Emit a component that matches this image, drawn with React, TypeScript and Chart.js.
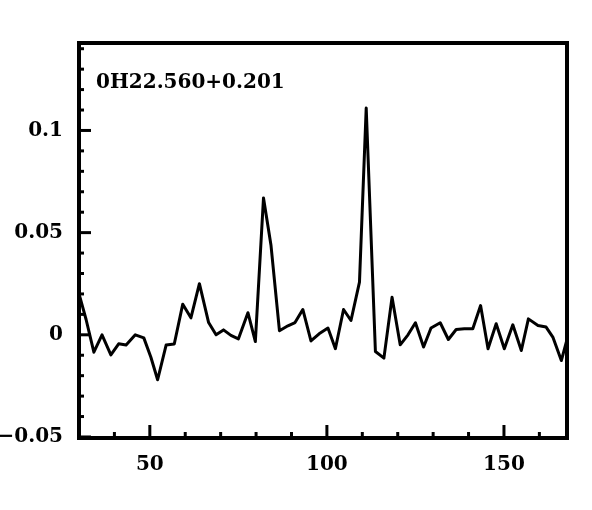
import React, { useEffect, useRef } from "react";
import { Chart, registerables } from "chart.js";

Chart.register(...registerables);

const velocities = [
  29.7, 32.0, 34.2, 36.5, 39.0, 41.2, 43.3, 45.9, 48.3, 50.3,
  52.2, 54.6, 56.9, 59.3, 61.6, 64.0, 66.6, 68.7, 70.8, 72.9,
  75.0, 77.7, 79.8, 82.1, 84.2, 86.6, 89.0, 91.0, 93.2, 95.5,
  97.8, 100.3, 102.4, 104.7, 106.8, 109.2, 111.1, 113.7, 116.1, 118.4,
  120.7, 122.9, 125.0, 127.3, 129.4, 132.0, 134.3, 136.5, 138.8, 141.2,
  143.4, 145.5, 147.8, 150.1, 152.5, 154.9, 156.9, 159.6, 161.9, 163.8,
  166.2, 168.4,
];

const fluxDensity = [
  0.022, 0.0075, -0.0085, 0.0, -0.0098, -0.0044, -0.005, 0.0, -0.0015, -0.011,
  -0.022, -0.005, -0.0045, 0.015, 0.0083, 0.025, 0.006, 0.0, 0.0024, -0.0003,
  -0.002, 0.0108, -0.0033, 0.067, 0.044, 0.002, 0.0044, 0.006, 0.0124, -0.003,
  0.0005, 0.0033, -0.0068, 0.0124, 0.007, 0.0258, 0.111, -0.0082, -0.0114, 0.0184,
  -0.0049, 0.0, 0.0059, -0.006, 0.0033, 0.0059, -0.0023, 0.0026, 0.003, 0.003,
  0.0143, -0.0068, 0.0054, -0.0068, 0.0049, -0.0077, 0.0078, 0.0046, 0.0038, -0.0011,
  -0.0126, 0.0015,
];

const sourceLabel = "0H22.560+0.201";
const xMajorTicks = [50, 100, 150];
const yMajorTicks = [-0.05, 0, 0.05, 0.1];

const FONT = '"DejaVu Serif", serif';

const isMajor = (v: number, list: number[]) =>
  list.some((m) => Math.abs(m - v) < 1e-6);

const fmtY = (v: number) => {
  if (Math.abs(v) < 1e-9) return "0";
  const s = String(Math.round(v * 1000) / 1000);
  return v < 0 ? "\u2212" + s.slice(1) : s;
};

const framePlugin = {
  id: "frame",
  afterDraw(chart: any) {
    const { ctx, chartArea } = chart;
    const { left, right, top, bottom } = chartArea;
    const xs = chart.scales.x;
    const ys = chart.scales.y;
    ctx.save();
    ctx.strokeStyle = "#000";
    ctx.lineCap = "butt";
    ctx.lineWidth = 3;
    xs.ticks.forEach((t: any) => {
      const px = xs.getPixelForValue(t.value);
      const len = isMajor(t.value, xMajorTicks) ? 13 : 6;
      ctx.beginPath();
      ctx.moveTo(px, bottom);
      ctx.lineTo(px, bottom - len);
      ctx.stroke();
    });
    ys.ticks.forEach((t: any) => {
      const py = ys.getPixelForValue(t.value);
      const len = isMajor(t.value, yMajorTicks) ? 12 : 5;
      ctx.beginPath();
      ctx.moveTo(left, py);
      ctx.lineTo(left + len, py);
      ctx.stroke();
    });
    ctx.lineWidth = 4;
    ctx.lineJoin = "miter";
    ctx.strokeRect(left, top, right - left, bottom - top);
    ctx.fillStyle = "#000";
    ctx.font = "bold 20px " + FONT;
    ctx.textAlign = "left";
    ctx.textBaseline = "middle";
    ctx.fillText(sourceLabel, 96, 83);
    ctx.restore();
  },
};

export default function App() {
  const ref = useRef<HTMLCanvasElement>(null);
  useEffect(() => {
    if (!ref.current) return;
    const chart = new Chart(ref.current, {
      type: "line",
      data: {
        datasets: [
          {
            data: velocities.map((v, i) => ({ x: v, y: fluxDensity[i] })),
            borderColor: "#000",
            borderWidth: 3,
            borderJoinStyle: "round",
            pointRadius: 0,
            tension: 0,
            fill: false,
          },
        ],
      },
      options: {
        animation: false,
        responsive: false,
        events: [],
        layout: { padding: { top: 43, right: 25, left: 0, bottom: 0 } },
        plugins: { legend: { display: false }, tooltip: { enabled: false } },
        scales: {
          x: {
            type: "linear",
            min: 30,
            max: 167.8,
            afterFit(scale: any) {
              scale.height = 72;
            },
            grid: { display: false, drawTicks: false },
            border: { display: false },
            ticks: {
              stepSize: 10,
              includeBounds: false,
              autoSkip: false,
              maxRotation: 0,
              padding: 15,
              color: "#000",
              font: { family: FONT, size: 20, weight: "bold" },
              callback: (v: any) => (isMajor(Number(v), xMajorTicks) ? String(v) : ""),
            },
          },
          y: {
            type: "linear",
            min: -0.0505,
            max: 0.1428,
            afterFit(scale: any) {
              scale.width = 79;
            },
            grid: { display: false, drawTicks: false },
            border: { display: false },
            ticks: {
              stepSize: 0.01,
              includeBounds: false,
              autoSkip: false,
              padding: 16,
              color: "#000",
              font: { family: FONT, size: 20, weight: "bold" },
              callback: (v: any) => (isMajor(Number(v), yMajorTicks) ? fmtY(Number(v)) : ""),
            },
          },
        },
      },
      plugins: [framePlugin],
    });
    return () => chart.destroy();
  }, []);
  return (
    <div style={{ position: "absolute", left: 0, top: 0, width: 592, height: 510, background: "#fff" }}>
      <canvas ref={ref} width={592} height={510} />
    </div>
  );
}
